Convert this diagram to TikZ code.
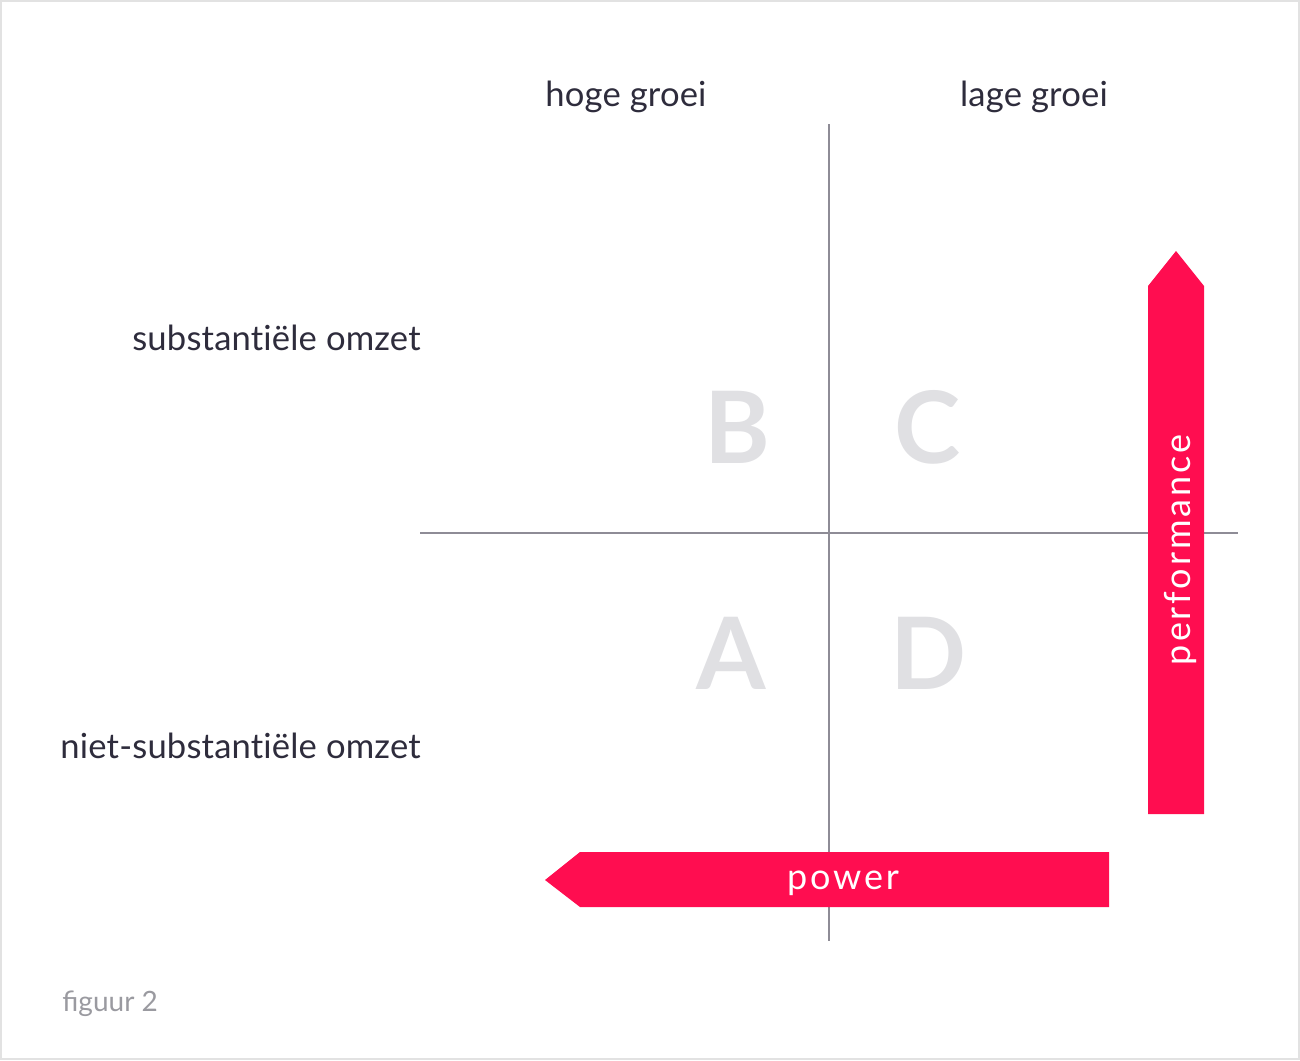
\documentclass[tikz,border=0pt]{standalone}
\usepackage{fontspec}
\setmainfont{Lato}
\definecolor{ink}{HTML}{2E2C3C}
\definecolor{axisgray}{HTML}{8E8C96}
\definecolor{lettergray}{HTML}{E0E0E3}
\definecolor{hotpink}{HTML}{FF0D50}
\definecolor{framegray}{HTML}{E2E2E2}
\definecolor{notegray}{HTML}{9A9AA0}
\tikzset{
  lbl/.style={text=ink, font=\addfontfeature{Ligatures=NoCommon, LetterSpace=0.5}\fontsize{17.3}{19}\selectfont, inner sep=0pt},
  quad/.style={text=lettergray, font=\bfseries\fontsize{50}{52}\selectfont, inner sep=0pt},
  band/.style={fill=hotpink, draw=none},
  bandtext/.style={text=white, font=\addfontfeature{LetterSpace=8}\fontsize{18}{20}\selectfont, inner sep=0pt},
  axis/.style={draw=axisgray, line width=0.7pt}
}
\begin{document}
\begin{tikzpicture}[x=0.5pt, y=-0.5pt]
\useasboundingbox (0,0) rectangle (1300,1060);
\draw[framegray, line width=1pt] (1,1) rectangle (1299,1059);
% axes
\coordinate (vtop) at (829,124);
\coordinate (vbot) at (829,941);
\coordinate (hleft) at (420,533);
\coordinate (hright) at (1238,533);
\draw[axis] (vtop) -- (vbot);
\draw[axis] (hleft) -- (hright);
% column and row labels
\node[lbl] (hoog) at (626,97) {hoge groei};
\node[lbl] (laag) at (1034,97) {lage groei};
\node[lbl, anchor=east] (subst) at (421,338) {substantiële omzet};
\node[lbl, anchor=east] (nsubst) at (421,746) {niet-substantiële omzet};
% quadrants
\node[quad] (qb) at (737,427) {B};
\node[quad] (qc) at (928,427) {C};
\node[quad] (qa) at (731,653) {A};
\node[quad] (qd) at (929,653) {D};
% performance arrow
\fill[band] (1148,814) -- (1148,286) -- (1176,251) -- (1204,286) -- (1204,814) -- cycle;
\node[bandtext, rotate=90] (perf) at (1180,550) {performance};
% power arrow
\fill[band] (1109,852) -- (580,852) -- (545,880) -- (580,907) -- (1109,907) -- cycle;
\node[bandtext] (pow) at (843,883) {power};
% caption
\node[text=notegray, font=\fontsize{14}{16}\selectfont, anchor=west, inner sep=0pt] (cap) at (62,1004) {figuur 2};
\end{tikzpicture}
\end{document}
